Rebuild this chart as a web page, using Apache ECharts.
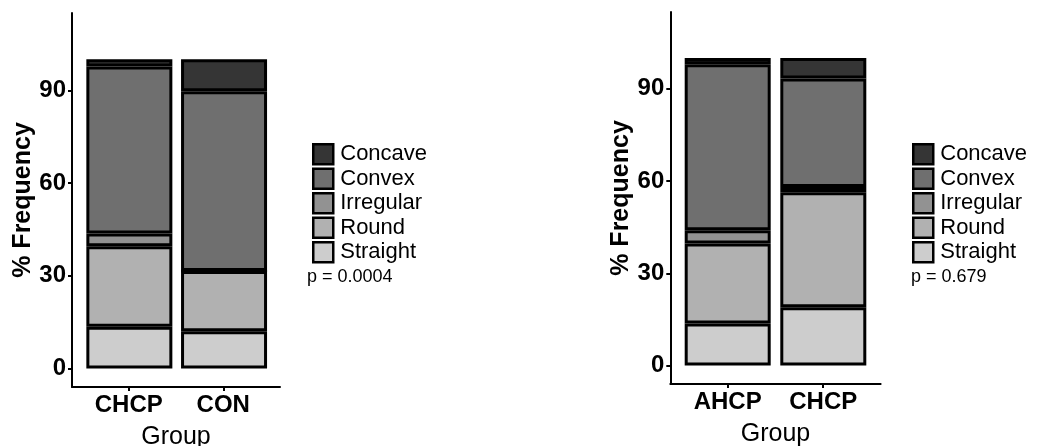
<!DOCTYPE html>
<html>
<head>
<meta charset="utf-8">
<script src="https://cdn.jsdelivr.net/npm/echarts@6/dist/echarts.min.js"></script>
<style>
  html, body { margin: 0; padding: 0; background: #fff; }
  #chart { width: 1038px; height: 446px; }
</style>
</head>
<body>
<div id="chart"></div>
<script>
// 데이터 (그림에서 읽은 값, % Frequency)
var shapes = ['Concave', 'Convex', 'Irregular', 'Round', 'Straight'];
var shapeColors = ['#353535', '#6f6f6f', '#929292', '#b1b1b1', '#cdcdcd'];

var leftGroups = ['CHCP', 'CON'];
var leftStraight = [13.5, 12];
var leftRound = [26, 19.5];
var leftIrregular = [4.2, 0];
var leftConvex = [54, 58.2];
var leftConcave = [2.3, 10.3];
var leftP = 'p = 0.0004';

var rightGroups = ['AHCP', 'CHCP'];
var rightStraight = [13.7, 19];
var rightRound = [26, 37.4];
var rightIrregular = [4.3, 1.7];
var rightConvex = [54, 35.3];
var rightConcave = [2, 6.6];
var rightP = 'p = 0.679';

var yTicks = [0, 30, 60, 90];
var yMin = -6, yMax = 115;

var FONT = 'Liberation Sans';
var BAR_W = 86;

/**스택 막대 시리즈 생성 (아래부터 Straight -> Concave) */
function buildSeries(gridIdx, vals) {
  var order = ['Straight', 'Round', 'Irregular', 'Convex', 'Concave'];
  return order.map(function (name) {
    return {
      name: name,
      type: 'bar',
      stack: 'g' + gridIdx,
      xAxisIndex: gridIdx,
      yAxisIndex: gridIdx,
      barWidth: BAR_W,
      itemStyle: {
        color: shapeColors[shapes.indexOf(name)],
        borderColor: '#000',
        borderWidth: 3
      },
      data: vals[name]
    };
  });
}

function barXAxis(gridIdx, cats) {
  return { type: 'category', gridIndex: gridIdx, data: cats, show: false };
}
function barYAxis(gridIdx) {
  return { type: 'value', gridIndex: gridIdx, min: yMin, max: yMax, show: false, splitLine: { show: false } };
}

// 축 프레임용 (ggplot처럼 축선이 막대 영역보다 넓게)
function frameXAxis(gridIdx, cats) {
  return {
    type: 'value',
    gridIndex: gridIdx,
    min: 0.4,
    max: 2.6,
    name: 'Group',
    nameLocation: 'middle',
    nameGap: 38,
    nameTextStyle: { fontFamily: FONT, fontSize: 25, color: '#000' },
    splitLine: { show: false },
    axisLine: { onZero: false, lineStyle: { color: '#000', width: 2 } },
    axisTick: { customValues: [1, 2], length: 4, lineStyle: { color: '#000', width: 2 } },
    axisLabel: {
      customValues: [1, 2],
      formatter: function (v) { return cats[Math.round(v) - 1]; },
      fontFamily: FONT, fontWeight: 'bold', fontSize: 24, color: '#000', margin: 6
    }
  };
}

function frameYAxis(gridIdx) {
  return {
    type: 'value',
    gridIndex: gridIdx,
    min: yMin,
    max: yMax,
    name: '% Frequency',
    nameLocation: 'middle',
    nameRotate: 90,
    nameGap: 35,
    nameTextStyle: { fontFamily: FONT, fontWeight: 'bold', fontSize: 25, color: '#000' },
    splitLine: { show: false },
    axisLine: { show: true, onZero: false, lineStyle: { color: '#000', width: 2 } },
    axisTick: { show: true, customValues: yTicks, length: 4, lineStyle: { color: '#000', width: 2 } },
    axisLabel: {
      customValues: yTicks,
      fontFamily: FONT, fontWeight: 'bold', fontSize: 24, color: '#000', margin: 6
    }
  };
}

function legendOf(left) {
  return {
    orient: 'vertical',
    left: left,
    top: 138,
    data: shapes,
    icon: 'rect',
    itemWidth: 20,
    itemHeight: 20,
    itemGap: 2,
    itemStyle: { borderColor: '#000', borderWidth: 2.5 },
    textStyle: { fontFamily: FONT, fontSize: 22, color: '#000', lineHeight: 22, padding: [0, 0, 0, 2] },
    selectedMode: false
  };
}

var chart = echarts.init(document.getElementById('chart'));

var series = []
  .concat(buildSeries(0, { Straight: leftStraight, Round: leftRound, Irregular: leftIrregular, Convex: leftConvex, Concave: leftConcave }))
  .concat(buildSeries(1, { Straight: rightStraight, Round: rightRound, Irregular: rightIrregular, Convex: rightConvex, Concave: rightConcave }));

var option = {
  animation: false,
  backgroundColor: '#fff',
  grid: [
    { left: 82, top: 13, width: 189.4, height: 374, outerBoundsMode: 'none' },
    { left: 679.9, top: 12, width: 191.2, height: 372, outerBoundsMode: 'none' },
    { left: 72, top: 13, width: 208, height: 374, outerBoundsMode: 'none' },
    { left: 670.3, top: 12, width: 210.3, height: 372, outerBoundsMode: 'none' }
  ],
  xAxis: [barXAxis(0, leftGroups), barXAxis(1, rightGroups), frameXAxis(2, leftGroups), frameXAxis(3, rightGroups)],
  yAxis: [barYAxis(0), barYAxis(1), frameYAxis(2), frameYAxis(3)],
  legend: [legendOf(307), legendOf(907)],
  graphic: [
    { type: 'text', left: 307, top: 268, style: { text: leftP, fontFamily: FONT, fontSize: 18, fill: '#000' } },
    { type: 'text', left: 911, top: 268, style: { text: rightP, fontFamily: FONT, fontSize: 18, fill: '#000' } }
  ],
  series: series
};

chart.setOption(option);
</script>
</body>
</html>
